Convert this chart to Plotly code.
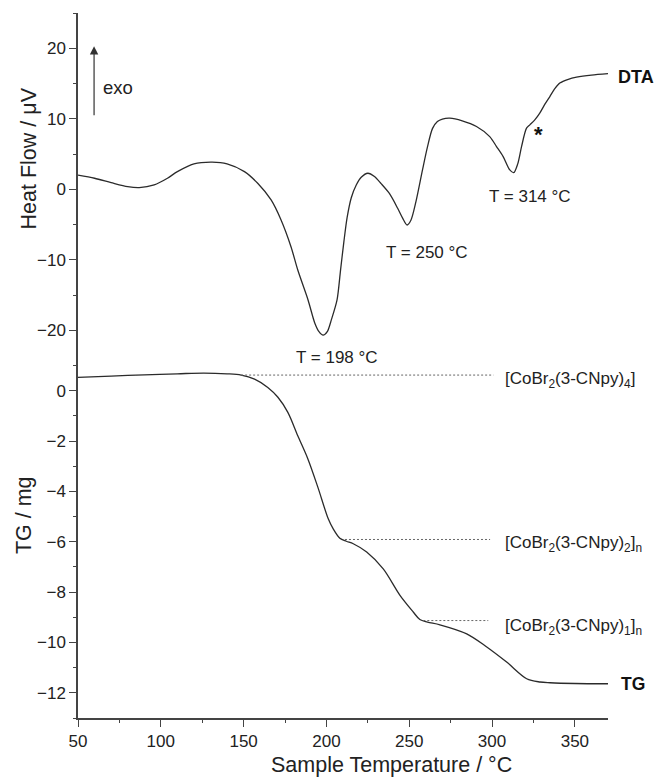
import plotly.graph_objects as go

# ---------------- data ----------------
dta_T = [50, 60, 70, 80, 87, 96, 104, 110, 120, 131, 140, 150.5, 158.5, 166.6, 172.6,
         178.6, 182.7, 188.9, 193, 195.5, 198, 200.5, 203, 206.4, 208.5, 210.5, 212.5,
         215, 218, 221, 225, 229, 233, 238, 243, 246, 248.7, 251, 254, 258, 261, 264,
         267, 270, 274.5, 282, 290.6, 298.6, 302.7, 306.7, 310.7, 313.1, 315.5, 317.8, 320.8,
         322.8, 325.8, 328.8, 332, 334.9, 338, 340.9, 346, 351, 360, 370]
dta_v = [2.0, 1.56, 0.94, 0.37, 0.23, 0.61, 1.56, 2.5, 3.6, 3.84, 3.6, 2.5, 0.85, -1.52, -4.36,
         -8.15, -11.46, -15.7, -19.0, -20.2, -20.7, -20.2, -18.5, -15.7, -11.5, -7.5, -4.0,
         -1.2, 0.6, 1.7, 2.27, 1.8, 0.8, -0.6, -2.7, -4.1, -5.07, -4.4, -1.8, 2.74, 6.0, 8.6,
         9.6, 9.95, 10.08, 9.7, 8.9, 7.47, 6.05, 4.63, 2.74, 2.36, 3.6, 6.05, 8.66,
         9.13, 9.84, 10.8, 12.1, 13.15, 14.3, 15.06, 15.6, 15.9, 16.2, 16.4]

tg_T = [50, 70, 90, 110, 126, 140, 148.5, 156.6, 164.6, 170.7, 176.7, 182.7, 188.8, 194.8,
        201.1, 204.1, 208.1, 212, 216.2, 224.3, 234.3, 244.4, 252.4, 256.4, 261, 268.5,
        284.7, 296.8, 308.8, 320.9, 328.9, 335, 350, 370]
tg_v = [0.53, 0.58, 0.63, 0.67, 0.70, 0.67, 0.62, 0.46, 0.13, -0.26, -0.86, -1.79, -2.71, -3.83,
        -5.09, -5.49, -5.86, -5.98, -6.08, -6.41, -7.08, -8.13, -8.79, -9.09, -9.19, -9.30,
        -9.66, -10.18, -10.78, -11.44, -11.57, -11.6, -11.63, -11.64]

ref_start = [148.5, 211.2, 258.5]
ref_end = [300.8, 298.8, 297.7]
ref_level = [0.62, -5.91, -9.13]
ref_labels = ["[CoBr<sub>2</sub>(3-CNpy)<sub>4</sub>]",
              "[CoBr<sub>2</sub>(3-CNpy)<sub>2</sub>]<sub>n</sub>",
              "[CoBr<sub>2</sub>(3-CNpy)<sub>1</sub>]<sub>n</sub>"]
ref_label_y = [0.42, -6.08, -9.38]
ref_label_x = 306.8

peak_labels = ["T = 198 °C", "T = 250 °C", "T = 314 °C"]
peak_label_x = [206.1, 260.5, 322.9]
peak_label_y = [-23.8, -8.98, -1.05]

FONT = "Arial, 'Liberation Sans', sans-serif"
AX = "#444444"
LINE = "#2b2b2b"

fig = go.Figure()
fig.add_trace(go.Scatter(x=dta_T, y=dta_v, xaxis="x", yaxis="y2", mode="lines",
                         line=dict(color=LINE, width=1.3, shape="spline", smoothing=0.8),
                         showlegend=False))
fig.add_trace(go.Scatter(x=tg_T, y=tg_v, xaxis="x", yaxis="y", mode="lines",
                         line=dict(color=LINE, width=1.3, shape="spline", smoothing=0.9),
                         showlegend=False))
for s, e, lv in zip(ref_start, ref_end, ref_level):
    fig.add_trace(go.Scatter(x=[s, e], y=[lv, lv], xaxis="x", yaxis="y", mode="lines",
                             line=dict(color="#666666", width=1, dash="2px,2px"),
                             showlegend=False))

common_axis = dict(showline=True, linecolor=AX, linewidth=1.5, ticks="outside",
                   ticklen=7, tickwidth=1.3, tickcolor=AX, showgrid=False,
                   zeroline=False, tickfont=dict(size=17, color="#222222", family=FONT))

fig.update_layout(
    width=657, height=778,
    margin=dict(l=78, r=49, t=13, b=60),
    paper_bgcolor="white", plot_bgcolor="white",
    font=dict(family=FONT, color="#222222"),
    showlegend=False,
    xaxis=dict(range=[50, 370], anchor="y", tick0=50, dtick=50,
               minor=dict(dtick=25, ticks="outside", ticklen=3.5, tickwidth=1.2, tickcolor=AX),
               **common_axis),
    yaxis=dict(domain=[0, 0.5], range=[-13, 1], anchor="x", tick0=0, dtick=2,
               minor=dict(dtick=1, ticks="outside", ticklen=3.5, tickwidth=1.2, tickcolor=AX),
               **common_axis),
    yaxis2=dict(domain=[0.5, 1], range=[-25, 25], anchor="x", tick0=0, dtick=10,
                minor=dict(dtick=5, ticks="outside", ticklen=3.5, tickwidth=1.2, tickcolor=AX),
                **common_axis),
)

ann = []
# axis titles
ann.append(dict(text="Sample Temperature / °C", xref="paper", yref="paper", x=0.591, y=-0.067,
                xanchor="center", yanchor="middle", showarrow=False, font=dict(size=21.5)))
ann.append(dict(text="Heat Flow / μV", xref="paper", yref="paper", x=-0.093, y=0.7933,
                xanchor="center", yanchor="middle", textangle=-90, showarrow=False,
                font=dict(size=21.5)))
ann.append(dict(text="TG / mg", xref="paper", yref="paper", x=-0.103, y=0.2884,
                xanchor="center", yanchor="middle", textangle=-90, showarrow=False,
                font=dict(size=21.5)))
# peak labels
for t, px, py in zip(peak_labels, peak_label_x, peak_label_y):
    ann.append(dict(text=t, xref="x", yref="y2", x=px, y=py, xanchor="center",
                    yanchor="middle", showarrow=False, font=dict(size=17)))
# compound labels
for t, py in zip(ref_labels, ref_label_y):
    ann.append(dict(text=t, xref="x", yref="y", x=ref_label_x, y=py, xanchor="left",
                    yanchor="middle", showarrow=False, font=dict(size=17)))
# series labels
ann.append(dict(text="<b>DTA</b>", xref="x", yref="y2", x=370, y=15.9, xanchor="left",
                yanchor="middle", xshift=8, showarrow=False, font=dict(size=18, color="#111")))
ann.append(dict(text="<b>TG</b>", xref="x", yref="y", x=370, y=-11.64, xanchor="left",
                yanchor="middle", xshift=11, showarrow=False, font=dict(size=17.5, color="#111")))
ann.append(dict(text="<b>*</b>", xref="x", yref="y2", x=327.9, y=7.7, xanchor="center",
                yanchor="middle", showarrow=False, font=dict(size=22, color="#111")))
# exo arrow
ann.append(dict(text="", xref="x", yref="y2", x=59.7, y=20.3, axref="x", ayref="y2",
                ax=59.7, ay=10.3, showarrow=True, arrowhead=2, arrowsize=1.4,
                arrowwidth=1.2, arrowcolor="#333"))
ann.append(dict(text="exo", xref="x", yref="y2", x=64.1, y=14.5, xanchor="left",
                yanchor="middle", showarrow=False, font=dict(size=18.5)))
fig.update_layout(annotations=ann)

fig.write_html("out.html")
